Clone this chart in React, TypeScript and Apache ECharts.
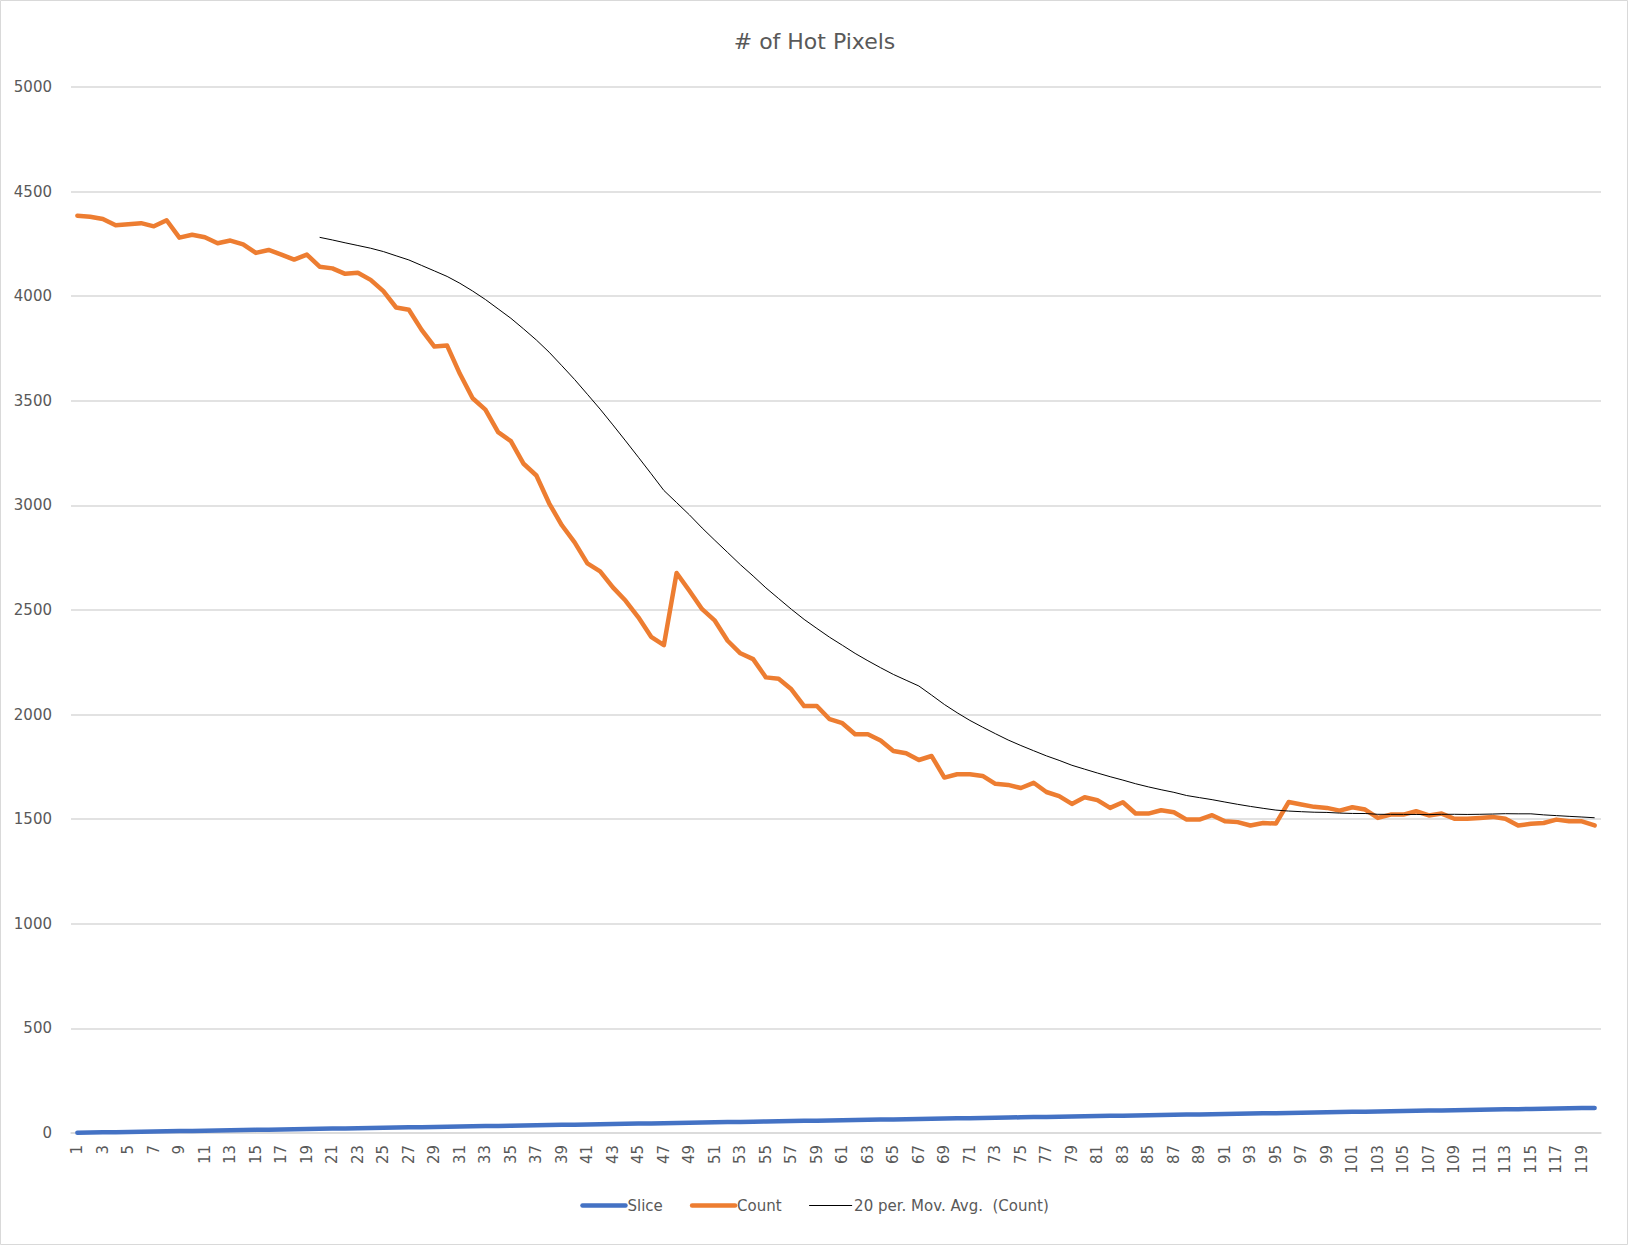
import React, { useEffect, useRef } from "react";
import * as echarts from "echarts";

const categories: string[] = [
  "1","2","3","4","5","6","7","8","9","10","11","12","13","14","15","16","17","18","19","20",
  "21","22","23","24","25","26","27","28","29","30","31","32","33","34","35","36","37","38","39","40",
  "41","42","43","44","45","46","47","48","49","50","51","52","53","54","55","56","57","58","59","60",
  "61","62","63","64","65","66","67","68","69","70","71","72","73","74","75","76","77","78","79","80",
  "81","82","83","84","85","86","87","88","89","90","91","92","93","94","95","96","97","98","99","100",
  "101","102","103","104","105","106","107","108","109","110","111","112","113","114","115","116","117","118","119","120",
];

const sliceValues: number[] = [
  1,2,3,4,5,6,7,8,9,10,11,12,13,14,15,16,17,18,19,20,
  21,22,23,24,25,26,27,28,29,30,31,32,33,34,35,36,37,38,39,40,
  41,42,43,44,45,46,47,48,49,50,51,52,53,54,55,56,57,58,59,60,
  61,62,63,64,65,66,67,68,69,70,71,72,73,74,75,76,77,78,79,80,
  81,82,83,84,85,86,87,88,89,90,91,92,93,94,95,96,97,98,99,100,
  101,102,103,104,105,106,107,108,109,110,111,112,113,114,115,116,117,118,119,120,
];

const countValues: number[] = [
  4385,4380,4369,4339,4344,4349,4334,4363,4280,4294,4282,4253,4266,4248,4207,4221,4199,4175,4199,4141,
  4133,4107,4112,4078,4024,3946,3935,3839,3759,3764,3629,3512,3458,3350,3307,3199,3143,3010,2905,2823,
  2723,2685,2608,2544,2465,2372,2332,2677,2592,2504,2449,2353,2293,2265,2178,2171,2121,2041,2041,1978,
  1959,1906,1906,1876,1826,1815,1783,1802,1699,1715,1715,1707,1669,1664,1649,1674,1630,1610,1573,1605,
  1591,1554,1581,1527,1527,1543,1533,1498,1498,1519,1490,1486,1470,1482,1479,1582,1570,1559,1554,1541,
  1557,1546,1506,1522,1522,1538,1518,1527,1502,1502,1506,1511,1502,1470,1478,1482,1498,1490,1490,1470,
];

const yTicks: number[] = [0, 500, 1000, 1500, 2000, 2500, 3000, 3500, 4000, 4500, 5000];

const MA_PERIOD = 20;
const movingAvg: (number | null)[] = countValues.map((_, i) => {
  if (i < MA_PERIOD - 1) return null;
  let s = 0;
  for (let k = i - MA_PERIOD + 1; k <= i; k++) s += countValues[k];
  return Math.round((s / MA_PERIOD) * 10) / 10;
});

const FONT = "'DejaVu Sans', sans-serif";
const TEXT = "#595959";
const BLUE = "#4472C4";
const ORANGE = "#ED7D31";

export default function App() {
  const ref = useRef<HTMLDivElement>(null);
  useEffect(() => {
    if (!ref.current) return;
    const chart = echarts.init(ref.current, null, { renderer: "svg" });
    chart.setOption({
      animation: false,
      backgroundColor: "#ffffff",
      textStyle: { fontFamily: FONT },
      title: {
        text: "# of Hot Pixels",
        left: "center",
        top: 25,
        textStyle: { fontFamily: FONT, fontSize: 22, fontWeight: "normal", color: TEXT },
      },
      graphic: [
        {
          type: "rect",
          shape: { x: 0.5, y: 0.5, width: 1627, height: 1244 },
          style: { fill: "none", stroke: "#d9d9d9", lineWidth: 1 },
          silent: true,
        },
      ],
      legend: {
        bottom: 28,
        left: "center",
        itemWidth: 43,
        itemHeight: 10,
        itemGap: 27,
        itemStyle: { opacity: 0 },
        textStyle: { fontFamily: FONT, fontSize: 15, color: TEXT, padding: [0, 0, 0, -3] },
        data: [
          { name: "Slice", lineStyle: { width: 4.5, color: BLUE, cap: "round" }, itemStyle: { opacity: 0 } },
          { name: "Count", lineStyle: { width: 4.5, color: ORANGE, cap: "round" }, itemStyle: { opacity: 0 } },
          { name: "20 per. Mov. Avg.  (Count)", lineStyle: { width: 1, color: "#000000" }, itemStyle: { opacity: 0 } },
        ],
      },
      grid: { left: 71, right: 28, top: 87, bottom: 113, containLabel: false },
      xAxis: {
        type: "category",
        data: categories,
        boundaryGap: true,
        axisLine: { show: true, lineStyle: { color: "#d9d9d9", width: 1.5 } },
        axisTick: { show: false },
        axisLabel: {
          interval: 1,
          rotate: 90,
          color: TEXT,
          fontFamily: FONT,
          fontSize: 15,
          margin: 12,
        },
        splitLine: { show: false },
      },
      yAxis: {
        type: "value",
        min: yTicks[0],
        max: yTicks[yTicks.length - 1],
        interval: 500,
        axisLine: { show: false },
        axisTick: { show: false },
        axisLabel: {
          color: TEXT,
          fontFamily: FONT,
          fontSize: 15,
          margin: 19,
          formatter: (v: number) => String(v),
        },
        splitLine: { show: true, lineStyle: { color: "#d9d9d9", width: 1.5 } },
      },
      series: [
        {
          name: "Slice",
          type: "line",
          data: sliceValues,
          symbol: "none",
          lineStyle: { color: BLUE, width: 4.5, cap: "round", join: "round" },
          itemStyle: { color: BLUE },
        },
        {
          name: "Count",
          type: "line",
          data: countValues,
          symbol: "none",
          lineStyle: { color: ORANGE, width: 4.5, cap: "round", join: "round" },
          itemStyle: { color: ORANGE },
        },
        {
          name: "20 per. Mov. Avg.  (Count)",
          type: "line",
          data: movingAvg,
          symbol: "none",
          connectNulls: false,
          lineStyle: { color: "#000000", width: 1 },
          itemStyle: { color: "#000000" },
        },
      ],
    });
    return () => chart.dispose();
  }, []);
  return (
    <div
      ref={ref}
      style={{ position: "fixed", left: 0, top: 0, width: 1629, height: 1246 }}
    />
  );
}
